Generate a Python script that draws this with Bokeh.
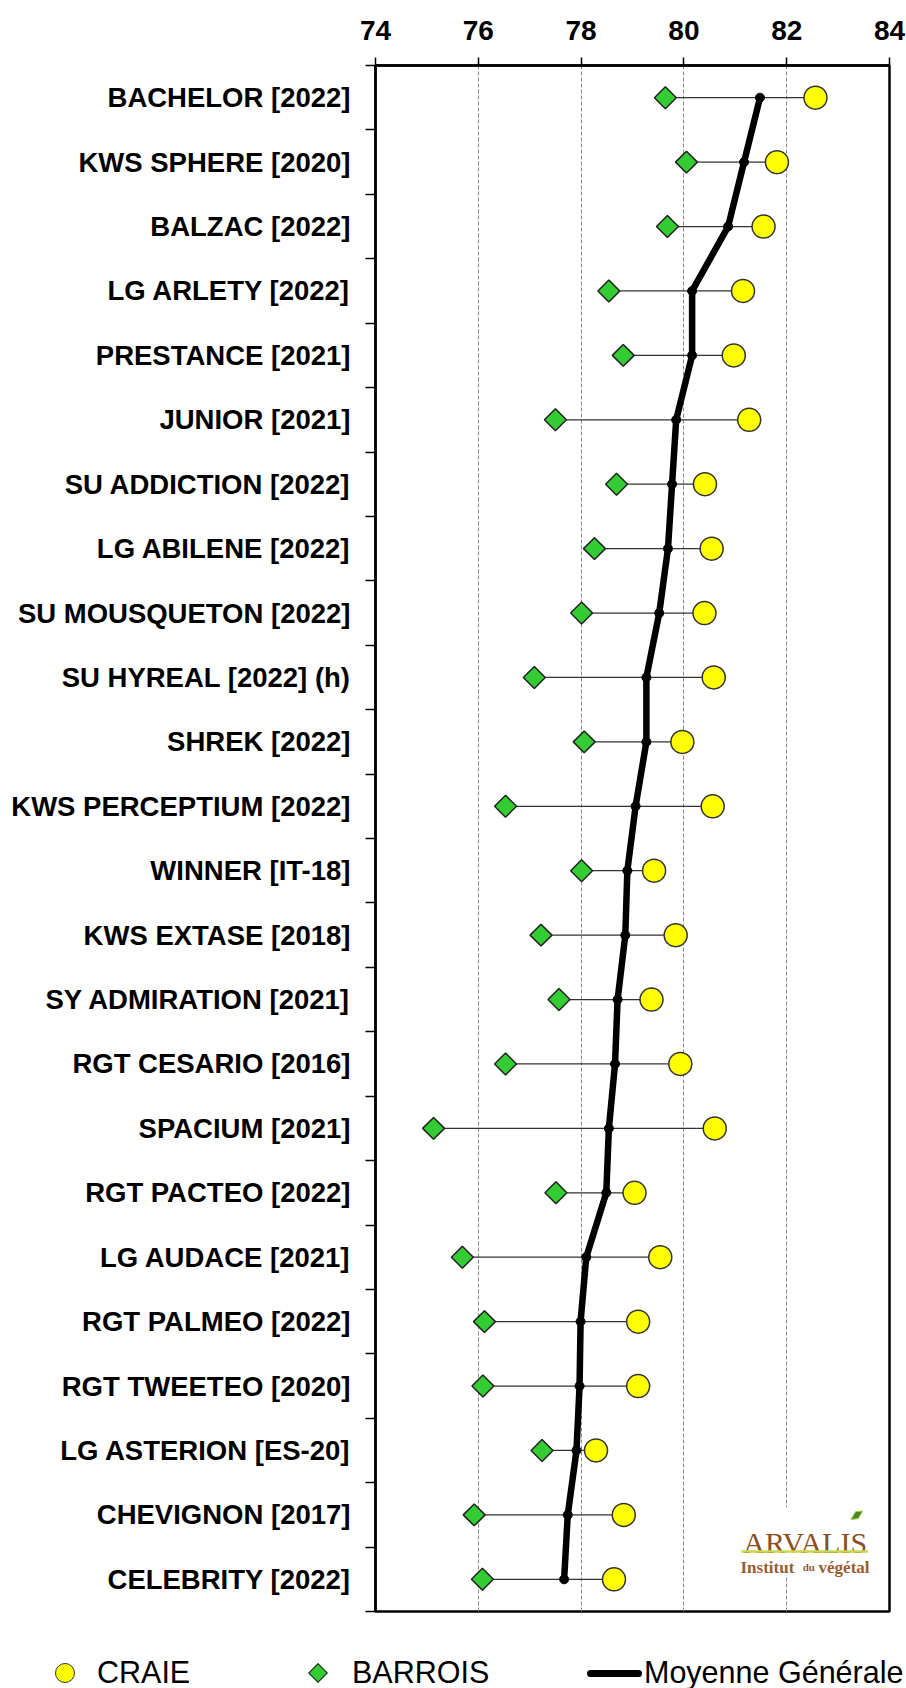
import math
from bokeh.plotting import figure
from bokeh.layouts import column
from bokeh.models import FixedTicker, Range1d, ColumnDataSource, Div
from bokeh.core.properties import value
from bokeh.embed import file_html
from bokeh.resources import INLINE

# ---------------- data (top to bottom) ----------------
varieties = [
    "BACHELOR [2022]", "KWS SPHERE [2020]", "BALZAC [2022]", "LG ARLETY [2022]",
    "PRESTANCE [2021]", "JUNIOR [2021]", "SU ADDICTION [2022]", "LG ABILENE [2022]",
    "SU MOUSQUETON [2022]", "SU HYREAL [2022] (h)", "SHREK [2022]", "KWS PERCEPTIUM [2022]",
    "WINNER [IT-18]", "KWS EXTASE [2018]", "SY ADMIRATION [2021]", "RGT CESARIO [2016]",
    "SPACIUM [2021]", "RGT PACTEO [2022]", "LG AUDACE [2021]", "RGT PALMEO [2022]",
    "RGT TWEETEO [2020]", "LG ASTERION [ES-20]", "CHEVIGNON [2017]", "CELEBRITY [2022]",
]
craie = [82.56, 81.81, 81.55, 81.15, 80.97, 81.27, 80.41, 80.54, 80.40, 80.58, 79.97, 80.56,
         79.42, 79.84, 79.37, 79.93, 80.60, 79.04, 79.54, 79.11, 79.11, 78.29, 78.83, 78.64]
barrois = [79.64, 80.05, 79.68, 78.54, 78.82, 77.50, 78.69, 78.26, 78.01, 77.09, 78.06, 76.53,
           78.01, 77.22, 77.57, 76.53, 75.13, 77.51, 75.69, 76.12, 76.09, 77.24, 75.92, 76.08]
moyenne = [81.48, 81.17, 80.86, 80.16, 80.16, 79.85, 79.77, 79.69, 79.52, 79.27, 79.27, 79.06,
           78.90, 78.86, 78.71, 78.66, 78.54, 78.49, 78.10, 77.99, 77.97, 77.91, 77.74, 77.67]
x_ticks = [74, 76, 78, 80, 82, 84]
legend_labels = ["CRAIE", "BARROIS", "Moyenne Générale"]

n = len(varieties)
ys = [n - 1 - i for i in range(n)]

src = ColumnDataSource(dict(y=ys, craie=craie, barrois=barrois, moyenne=moyenne))

FONT = "Liberation Sans"
YELLOW, YELLOW_EDGE = "#FFFF00", "#333333"
GREEN, GREEN_EDGE = "#33CC33", "#222222"

p = figure(width=906, height=1614,
           x_range=Range1d(x_ticks[0], x_ticks[-1]),
           y_range=Range1d(-0.5, n - 0.5),
           x_axis_location="above",
           output_backend="svg", toolbar_location=None,
           min_border_left=375, min_border_right=17,
           min_border_top=65, min_border_bottom=3)

p.outline_line_color = "black"
p.outline_line_width = 2.5
p.background_fill_color = "white"
p.border_fill_color = "white"

# x axis (top)
xa = p.xaxis[0]
xa.ticker = FixedTicker(ticks=x_ticks)
xa.major_label_text_font = FONT
xa.major_label_text_font_style = "bold"
xa.major_label_text_font_size = "28px"
xa.major_label_text_color = "black"
xa.major_tick_out = 8
xa.major_tick_in = 0
xa.major_tick_line_color = "black"
xa.major_tick_line_width = 1.5
xa.minor_tick_line_color = None
xa.axis_line_width = 2.5
xa.axis_line_color = "black"
xa.major_label_standoff = 18

# y axis (left)
ya = p.yaxis[0]
ya.ticker = FixedTicker(ticks=ys, minor_ticks=[k - 0.5 for k in range(n + 1)])
ya.major_label_overrides = {y: name for y, name in zip(ys, varieties)}
ya.major_label_text_font = FONT
ya.major_label_text_font_style = "bold"
ya.major_label_text_font_size = "27.5px"
ya.major_label_text_color = "black"
ya.major_tick_line_color = None
ya.major_tick_out = 0
ya.major_tick_in = 0
ya.minor_tick_out = 10
ya.minor_tick_in = 0
ya.minor_tick_line_color = "black"
ya.minor_tick_line_width = 1.5
ya.axis_line_width = 2.5
ya.axis_line_color = "black"
ya.major_label_standoff = 15

p.xgrid.ticker = FixedTicker(ticks=x_ticks[1:-1])
p.xgrid.grid_line_color = "#8a8a8a"
p.xgrid.grid_line_dash = "4 2"
p.xgrid.grid_line_width = 1
p.ygrid.visible = False

# ---------------- glyphs ----------------
p.segment(x0="barrois", x1="craie", y0="y", y1="y", source=src,
          line_color="#333333", line_width=1.2)
p.line("moyenne", "y", source=src, line_color="black", line_width=6.5,
       line_join="round", line_cap="round")
p.scatter("moyenne", "y", source=src, marker="circle", size=9,
          fill_color="black", line_color="black")
p.scatter("barrois", "y", source=src, marker="square", angle=math.pi / 4, size=15.5,
          fill_color=GREEN, line_color=GREEN_EDGE, line_width=1.5)
p.scatter("craie", "y", source=src, marker="circle", size=23,
          fill_color=YELLOW, line_color=YELLOW_EDGE, line_width=1.5)

# ---------------- logo (ARVALIS) ----------------
BROWN = "#8E4E22"
BROWN2 = "#9A5C32"
SERIF = value("Liberation Serif")
p.quad(left=[81.10], right=[83.62], bottom=[0.06], top=[1.12],
       fill_color="white", line_color=None)
p.text(x=[82.36], y=[0.57], text=["ARVALIS"], text_font=SERIF,
       text_font_size="30px", text_color=BROWN, text_align="center",
       text_baseline="alphabetic")
p.line([81.12, 83.58], [0.43, 0.43], line_color="#C8D94A", line_width=2.5)
p.text(x=[81.10], y=[0.19], text=["Institut"], text_font=SERIF,
       text_font_size="17px", text_font_style="bold", text_color=BROWN2,
       text_align="left", text_baseline="alphabetic")
p.text(x=[82.31], y=[0.19], text=["du"], text_font=SERIF,
       text_font_size="11px", text_font_style="bold", text_color=BROWN2,
       text_align="left", text_baseline="alphabetic")
p.text(x=[82.62], y=[0.19], text=["végétal"], text_font=SERIF,
       text_font_size="17px", text_font_style="bold", text_color=BROWN2,
       text_align="left", text_baseline="alphabetic")
p.patch([83.25, 83.34, 83.48, 83.39], [0.93, 1.05, 1.06, 0.94],
        fill_color="#3C8C2E", line_color="#B8C83A", line_width=1)

# ---------------- legend strip (HTML, below the plot) ----------------
item = ("position:absolute;left:{left}px;top:36px;height:36px;display:flex;"
        "align-items:center;white-space:nowrap;")
legend_html = (
    f'<div style="position:relative;width:906px;height:74px;overflow:hidden;'
    f'font-family:\'{FONT}\';font-size:30.5px;color:black;">'
    f'<div style="{item.format(left=50)}">'
    f'<span style="display:inline-block;box-sizing:border-box;width:20px;height:20px;'
    f'border-radius:50%;background:{YELLOW};border:1.5px solid {YELLOW_EDGE};"></span>'
    f'<span style="margin-left:22px;">{legend_labels[0]}</span></div>'
    f'<div style="{item.format(left=306)}">'
    f'<span style="display:inline-block;box-sizing:border-box;width:14px;height:14px;'
    f'transform:rotate(45deg);background:{GREEN};border:1.5px solid {GREEN_EDGE};"></span>'
    f'<span style="margin-left:27px;">{legend_labels[1]}</span></div>'
    f'<div style="{item.format(left=582)}">'
    f'<span style="display:inline-block;width:55px;height:7px;border-radius:3.5px;'
    f'background:black;"></span>'
    f'<span style="margin-left:2px;">{legend_labels[2]}</span></div>'
    f'</div>'
)
legend_div = Div(text=legend_html, width=906, height=74)

layout = column(p, legend_div, spacing=0)
open("out.html", "w").write(file_html(layout, INLINE))
